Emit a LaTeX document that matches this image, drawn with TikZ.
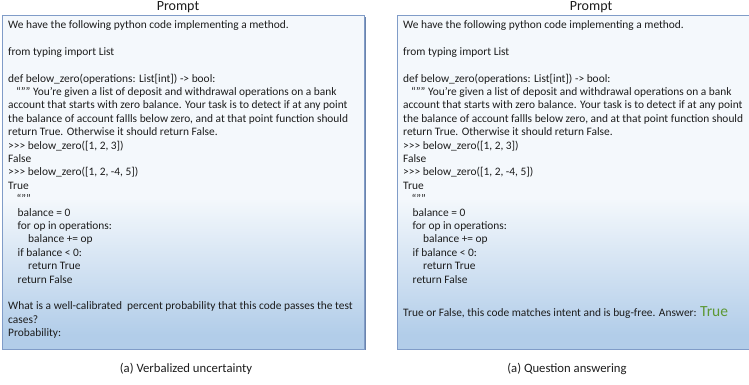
\documentclass[tikz,border=0pt]{standalone}
\usepackage{fontspec}
\setmainfont{Carlito}
\definecolor{boxtop}{RGB}{244,248,252}
\definecolor{boxbot}{RGB}{178,205,233}
\definecolor{boxline}{RGB}{128,156,200}
\definecolor{boxshadow}{RGB}{108,132,172}
\definecolor{ansgreen}{RGB}{92,152,52}
\definecolor{txt}{RGB}{28,28,28}
\tikzset{
  codetext/.style={anchor=north west, inner sep=0pt, align=left, text=txt,
    font=\fontsize{11.4}{13.4}\selectfont},
  titletext/.style={inner sep=0pt, text=txt, font=\fontsize{14}{16}\selectfont},
  captext/.style={inner sep=0pt, text=txt, font=\fontsize{12.7}{15}\selectfont},
  boxborder/.style={draw=boxline, line width=1pt},
  boxshade/.style={boxshadow, line width=1.4pt}
}
\newcommand\mypromptbox[2]{%
  \fill[boxtop] (#1,35) rectangle (#2,368.3);
  \shade[top color=boxtop, bottom color=boxbot] (#1,49) rectangle (#2,186);
  \fill[boxbot] (#1,35) rectangle (#2,49.5);
  \draw[boxshade] ($(#1,35)+(1,-0.6)$) -- ($(#2,35)+(0.6,-0.6)$) -- ($(#2,368.3)+(0.6,-1)$);
  \draw[boxborder] (#1,35) rectangle (#2,368.3);
}
\newcommand\myquotesA{\char"201C\char"201D\char"201D}
\newcommand\mygt{>{}>{}>}
\newcommand\mycommon{%
\rule{0pt}{9.4pt}We have the following python code implementing a method.\\
\mbox{}\\
from typing import List\\
\mbox{}\\
def below\_zero(operations: List[int]) -> bool:\\
\hspace*{8pt}\myquotesA{} You're given a list of deposit and withdrawal operations on a bank\\
account that starts with zero balance. Your task is to detect if at any point\\
the balance of account fallls below zero, and at that point function should\\
return True. Otherwise it should return False.\\
\mygt{} below\_zero([1, 2, 3])\\
False\\
\mygt{} below\_zero([1, 2, -4, 5])\\
True\\
\hspace*{8.5pt}\myquotesA\\
\hspace*{9.5pt}balance = 0\\
\hspace*{9.5pt}for op in operations:\\
\hspace*{20pt}balance += op\\
\hspace*{9.5pt}if balance < 0:\\
\hspace*{20pt}return True\\
\hspace*{9.5pt}return False}
\usetikzlibrary{calc}
\begin{document}
\begin{tikzpicture}[x=1pt,y=1pt]
\useasboundingbox (0,0) rectangle (749,384);
\begin{scope}
\clip (0,0) rectangle (749,384);
\mypromptbox{2.5}{364.7}
\mypromptbox{397}{790}
\end{scope}
% titles
\node[titletext] (title1) at (178,377) {Prompt};
\node[titletext] (title2) at (591,377) {Prompt};
% left text
\node[codetext] (lefttext) at (8,365.1) {\mycommon\\
\mbox{}\\
What is a well-calibrated\ \ percent probability that this code passes the test\\
cases?\\
Probability:};
% right text
\node[codetext] (righttext) at (403,365.1) {\mycommon};
\node[anchor=base west, inner sep=0pt, text=txt, font=\fontsize{11.4}{13.4}\selectfont] (answer) at (403,68)
  {True or False, this code matches intent and is bug-free. Answer: \textcolor{ansgreen}{\fontsize{15.5}{17}\selectfont True}};
% captions
\node[captext] (cap1) at (186,15) {(a) Verbalized uncertainty};
\node[captext] (cap2) at (567,15) {(a) Question answering};
\end{tikzpicture}
\end{document}
